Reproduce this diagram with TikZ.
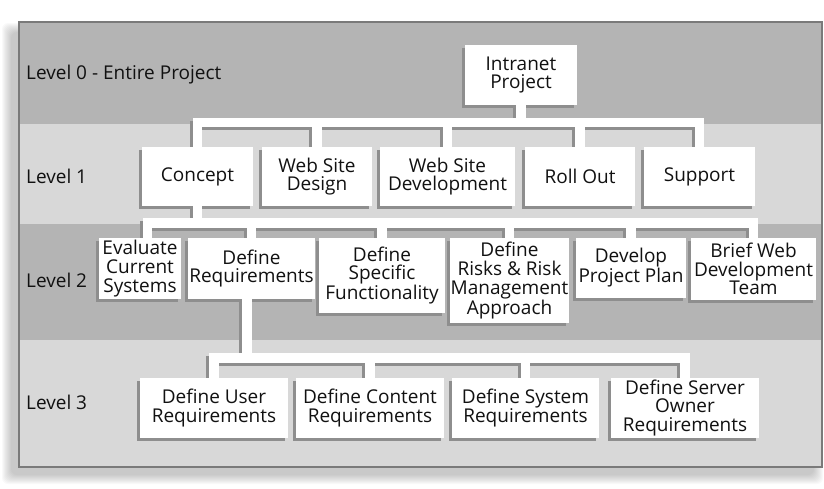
\documentclass[tikz,border=0pt]{standalone}
\usepackage{fontspec}
\setmainfont{Open Sans}
\definecolor{bandD}{HTML}{B4B4B4}
\definecolor{bandL}{HTML}{D8D8D8}
\definecolor{shadowc}{HTML}{8E8E8E}
\definecolor{framec}{HTML}{7A7A7A}
\definecolor{txt}{HTML}{111111}
\newcommand\boxfont{\fontsize{19}{18.8}\selectfont}
\pgfdeclarelayer{bgl}
\pgfdeclarelayer{shl}
\pgfdeclarelayer{cnl}
\pgfsetlayers{bgl,shl,cnl,main}
\newcommand\drawconns[1]{%
  \draw[conn, #1] (ip.south) -- (ip.south |- y01);
  \draw[conn, #1] (concept.north) -- (concept.north |- y01) -- (support.north |- y01) -- (support.north);
  \draw[conn, #1] (wsd.north) -- (wsd.north |- y01);
  \draw[conn, #1] (wsdev.north) -- (wsdev.north |- y01);
  \draw[conn, #1] (rollout.north) -- (rollout.north |- y01);
  \draw[conn, #1] (concept.south) -- (concept.south |- y12);
  \draw[conn, #1] (evtop) -- (evtop |- y12) -- (brief.north |- y12) -- (brief.north);
  \draw[conn, #1] (defreq.north) -- (defreq.north |- y12);
  \draw[conn, #1] (specific.north) -- (specific.north |- y12);
  \draw[conn, #1] (risks.north) -- (risks.north |- y12);
  \draw[conn, #1] (plan.north) -- (plan.north |- y12);
  \draw[conn, #1] (drbot) -- (drbot |- y23);
  \draw[conn, #1] (user.north) -- (user.north |- y23) -- (server.north |- y23) -- (server.north);
  \draw[conn, #1] (content.north) -- (content.north |- y23);
  \draw[conn, #1] (system.north) -- (system.north |- y23);
}
\begin{document}
\begin{tikzpicture}[x=1pt,y=-1pt,
  box/.style={fill=white, inner sep=0pt, align=center, font=\boxfont, text=txt},
  lvl/.style={anchor=west, inner sep=0pt, font=\boxfont, text=txt},
  conn/.style={line width=9.5pt, line join=miter, line cap=butt}]
\useasboundingbox (0,0) rectangle (824,488);

% ---- boxes ----
\node[box, minimum width=112pt, minimum height=60pt] (ip) at (521,75) {Intranet\\Project};

\node[box, minimum width=111pt, minimum height=59pt] (concept) at (197.5,176.5) {Concept};
\node[box, minimum width=110pt, minimum height=59pt] (wsd) at (317,176.5) {Web Site\\Design};
\node[box, minimum width=135pt, minimum height=59pt] (wsdev) at (447.5,176.5) {Web Site\\Development};
\node[box, minimum width=110pt, minimum height=59pt] (rollout) at (580,176.5) {Roll Out};
\node[box, minimum width=111pt, minimum height=59pt] (support) at (699.5,176.5) {Support};

\node[box, minimum width=82pt, minimum height=61pt] (eval) at (140,268.5) {Evaluate\\Current\\Systems};
\node[box, minimum width=127pt, minimum height=61pt] (defreq) at (251.5,268.5) {Define\\Requirements};
\node[box, minimum width=126pt, minimum height=75pt] (specific) at (382,275.5) {Define\\Specific\\Functionality};
\node[box, minimum width=119pt, minimum height=85pt] (risks) at (509.5,280.5) {Define\\Risks \& Risk\\Management\\Approach};
\node[box, minimum width=110pt, minimum height=60pt] (plan) at (631,268) {Develop\\Project Plan};
\node[box, minimum width=125pt, minimum height=62pt] (brief) at (753.5,269) {Brief Web\\Development\\Team};

\node[box, minimum width=148pt, minimum height=60pt] (user) at (214,408) {Define User\\Requirements};
\node[box, minimum width=148pt, minimum height=60pt] (content) at (370,408) {Define Content\\Requirements};
\node[box, minimum width=147pt, minimum height=60pt] (system) at (525.5,408) {Define System\\Requirements};
\node[box, minimum width=148pt, minimum height=60pt] (server) at (685,408) {Define Server\\Owner\\Requirements};

% ---- level labels ----
\node[lvl] (l0) at (26,75) {Level 0 - Entire Project};
\node[lvl] (l1) at (26,176) {Level 1};
\node[lvl] (l2) at (26,280) {Level 2};
\node[lvl] (l3) at (26,402) {Level 3};

% ---- helper coordinates ----
\coordinate (y01) at (0,122.5);
\coordinate (y12) at (0,223);
\coordinate (y23) at (0,358);
\coordinate (evtop) at ([xshift=7.5pt]eval.north);
\coordinate (drbot) at ([xshift=-4.5pt]defreq.south);

% ---- background bands ----
\begin{pgfonlayer}{bgl}
  \foreach \i in {0,...,9}
    \fill[black, opacity=0.024, rounded corners=6pt]
      ({19-8-\i},{22+10-\i}) rectangle ({822-8+\i},{467+8+\i});
  \fill[bandD] (19,22) rectangle (822,124);
  \fill[bandL] (19,124) rectangle (822,224);
  \fill[bandD] (19,224) rectangle (822,340);
  \fill[bandL] (19,340) rectangle (822,467);
  \draw[framec, line width=1.2pt] (19,22) rectangle (822,467);
\end{pgfonlayer}

% ---- shadows ----
\begin{pgfonlayer}{shl}
  \begin{scope}[transform canvas={shift={(-3pt,-3pt)}}]
    \drawconns{shadowc}
    \foreach \n in {ip,concept,wsd,wsdev,rollout,support,eval,defreq,specific,risks,plan,brief,user,content,system,server}
      \fill[shadowc] (\n.south west) rectangle (\n.north east);
  \end{scope}
\end{pgfonlayer}

% ---- connectors ----
\begin{pgfonlayer}{cnl}
  \drawconns{white}
\end{pgfonlayer}
\end{tikzpicture}
\end{document}
